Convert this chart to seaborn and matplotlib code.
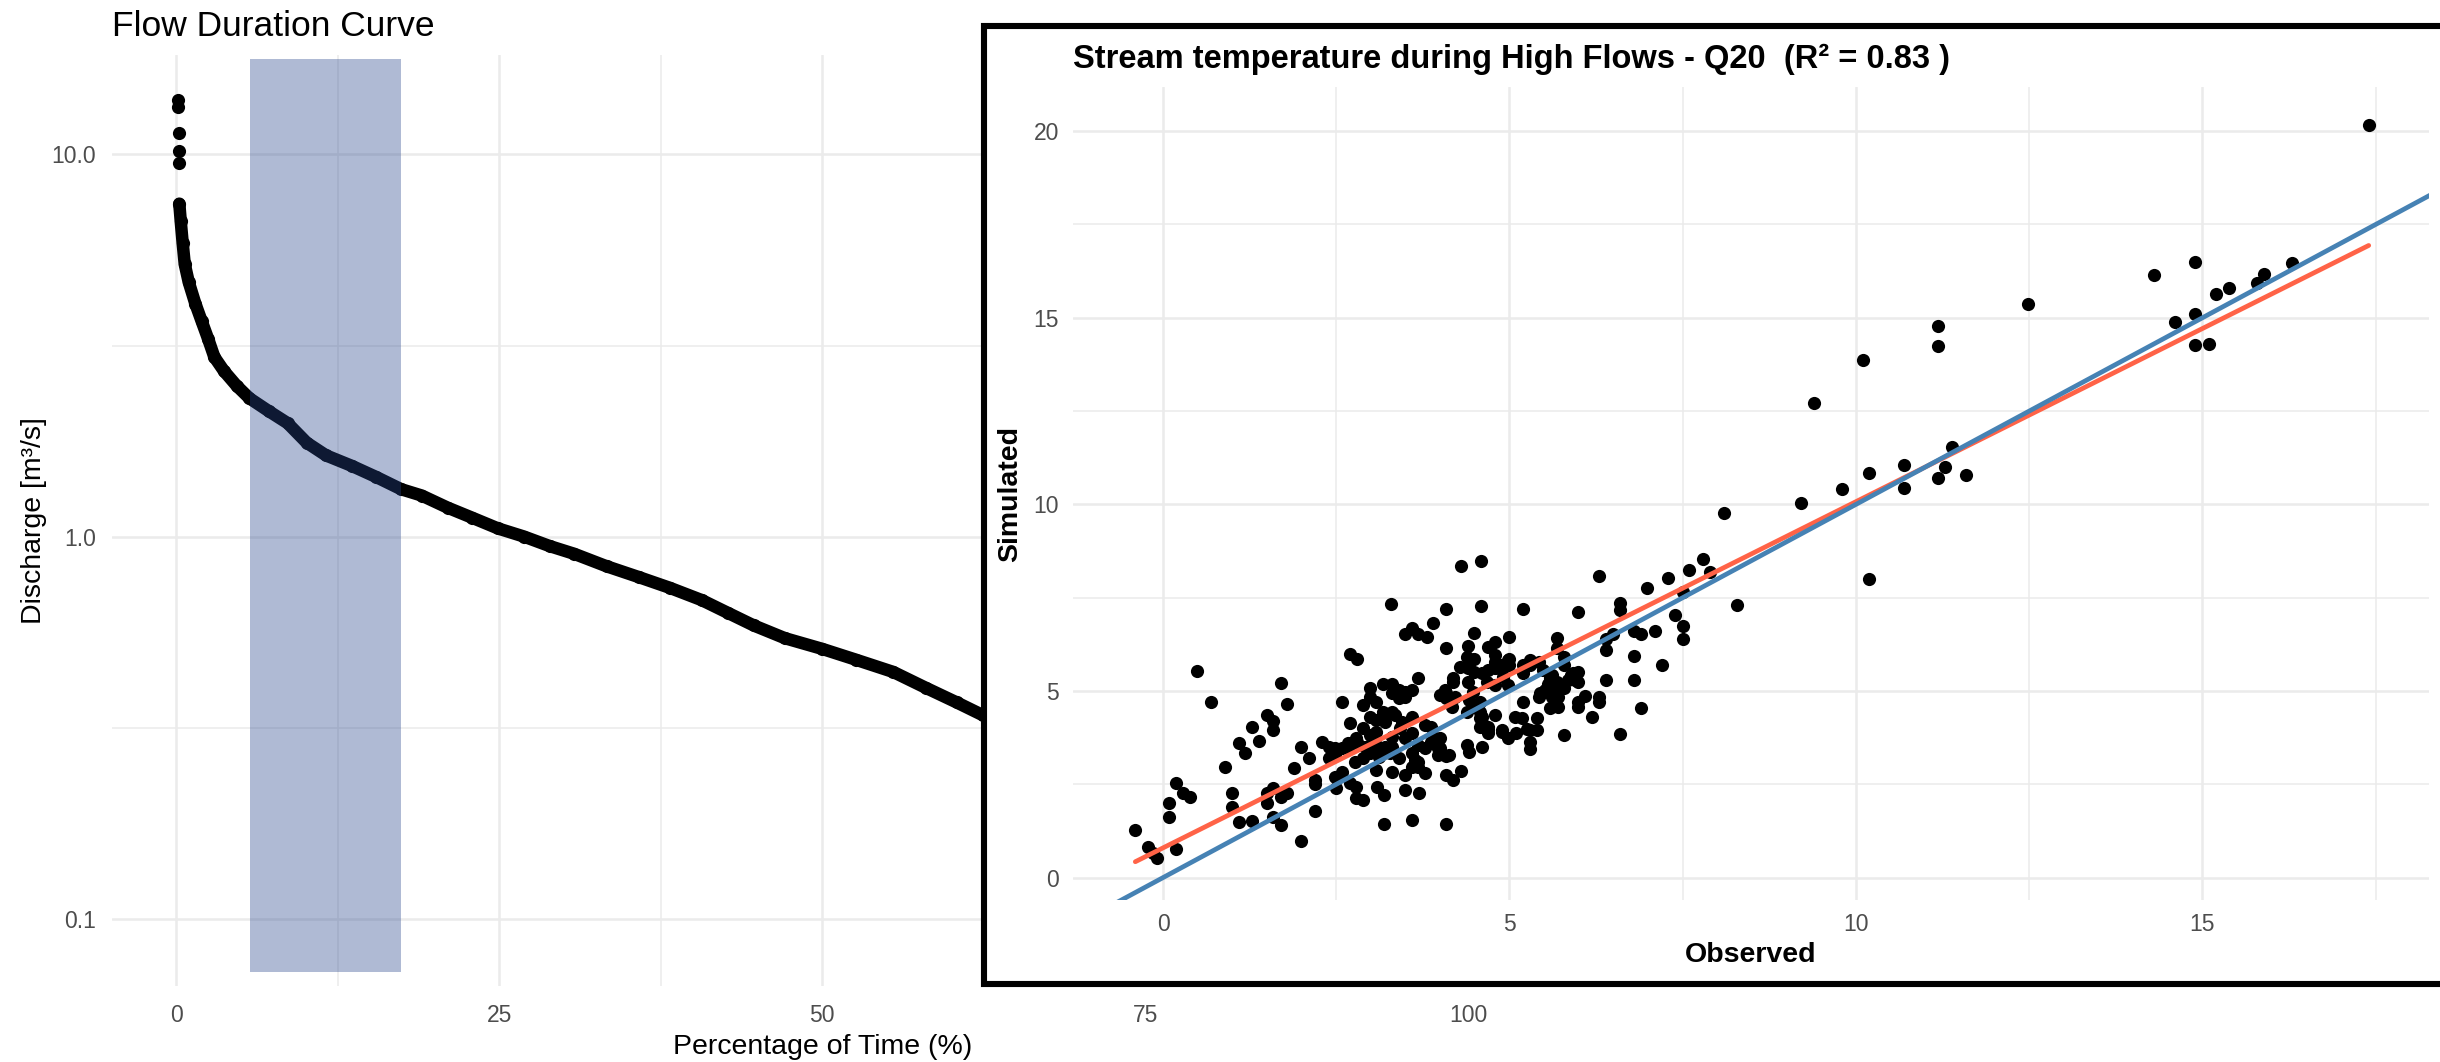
import matplotlib
matplotlib.use("Agg")
import matplotlib.pyplot as plt
from matplotlib.patches import Rectangle
from matplotlib.ticker import FixedLocator, FixedFormatter, NullFormatter
import seaborn as sns

# ---------------------------------------------------------------------------
# Flow duration curve (exceedance % vs discharge, m3/s)
# ---------------------------------------------------------------------------
fdc_peak_pct = [0.17, 0.17, 0.20, 0.22, 0.25]
fdc_peak_q = [13.9, 13.3, 11.4, 10.2, 9.5]

fdc_pct = [0.24, 0.35, 0.50, 0.66, 0.97, 1.48, 1.97, 2.47, 2.95, 3.70,
           4.68, 5.67, 7.15, 8.62, 10.1, 11.6, 13.6, 15.5, 17.4, 19.0,
           21.0, 22.9, 24.9, 26.9, 28.9, 30.8, 33.3, 35.8, 38.2, 40.7,
           42.7, 44.7, 47.1, 50.0, 52.6, 55.5, 58.0, 60.4, 62.4, 64.0]
fdc_q = [7.43, 6.69, 5.86, 5.16, 4.63, 4.07, 3.66, 3.29, 2.95, 2.71,
         2.48, 2.30, 2.13, 1.98, 1.76, 1.63, 1.53, 1.43, 1.33, 1.28,
         1.19, 1.12, 1.05, 1.00, 0.944, 0.901, 0.836, 0.783, 0.734, 0.681,
         0.631, 0.585, 0.542, 0.508, 0.476, 0.442, 0.402, 0.368, 0.341, 0.326]

# High-flow window (Q20 period) highlighted on the curve
hf_window_pct = [5.7, 17.4]
hf_window_q = [0.0727, 17.8]

pct_ticks = [0, 25, 50, 75, 100]
pct_minor = [12.5, 37.5, 62.5, 87.5]
q_ticks = [0.1, 1.0, 10.0]
q_tick_labels = ["0.1", "1.0", "10.0"]
q_minor = [0.316, 3.16]

# ---------------------------------------------------------------------------
# Stream temperature during high flows: observed vs simulated (deg C)
# ---------------------------------------------------------------------------
observed = [
    -0.40, -0.21, -0.14, -0.09, 0.19, 0.09, 0.09, 0.19, 0.29, 0.39,
    0.49, 0.69, 0.90, 0.99, 0.99, 1.09, 1.29, 1.09, 1.19, 1.29,
    1.39, 1.50, 1.59, 1.59, 1.70, 1.79, 1.50, 1.50, 1.59, 1.70,
    1.79, 1.59, 1.70, 1.99, 1.99, 2.10, 1.89, 2.19, 2.19, 2.19,
    2.29, 2.39, 2.48, 2.48, 2.58, 2.67, 2.48, 2.59, 2.50, 2.70,
    2.79, 2.79, 2.89, 2.70, 2.59, 2.89, 2.79, 2.89, 2.99, 3.08,
    3.08, 3.19, 3.30, 3.19, 3.19, 3.09, 3.30, 3.40, 3.49, 3.59,
    3.69, 3.59, 3.68, 3.78, 3.49, 3.59, 2.99, 3.08, 2.99, 2.89,
    2.99, 2.99, 3.08, 3.18, 3.30, 3.40, 3.49, 3.59, 3.30, 3.40,
    3.49, 3.18, 3.30, 3.08, 3.59, 3.78, 3.87, 3.68, 3.78, 3.87,
    3.97, 3.97, 3.68, 3.49, 2.70, 2.39, 3.29, 3.49, 3.59, 3.68,
    3.81, 3.90, 2.70, 2.80, 3.68, 3.64, 3.92, 4.12, 3.42, 3.30,
    3.20, 3.28, 3.11, 2.77, 2.67, 2.80, 2.91, 3.01, 3.20, 3.35,
    3.45, 4.19, 4.09, 4.29, 4.38, 4.60, 4.69, 4.79, 4.89, 4.98,
    4.07, 4.21, 4.17, 4.41, 4.50, 4.60, 4.69, 4.60, 4.38, 4.41,
    4.60, 4.79, 4.89, 4.98, 5.10, 5.18, 5.08, 5.25, 5.39, 5.42,
    5.51, 5.61, 5.70, 5.85, 5.95, 5.20, 5.30, 5.42, 5.49, 5.61,
    5.56, 4.30, 4.59, 6.29, 7.79, 7.59, 7.29, 7.89, 6.99, 7.50,
    8.29, 6.59, 6.59, 5.99, 5.19, 4.59, 4.09, 7.39, 7.50, 7.50,
    7.10, 6.90, 6.80, 6.49, 6.39, 6.39, 6.80, 7.20, 6.39, 6.80,
    6.90, 6.59, 6.19, 6.29, 6.29, 6.09, 5.99, 5.99, 5.79, 5.69,
    5.69, 5.79, 5.79, 5.99, 5.99, 5.89, 5.59, 5.68, 5.78, 5.61,
    5.44, 5.70, 5.58, 5.70, 5.39, 5.30, 5.30, 5.30, 5.30, 5.20,
    5.20, 4.89, 4.99, 4.99, 4.99, 4.79, 4.69, 4.79, 4.79, 4.89,
    4.90, 4.98, 4.79, 4.67, 4.49, 4.40, 4.49, 4.40, 4.49, 4.19,
    4.40, 4.48, 4.09, 4.00, 4.57, 4.38, 4.57, 4.57, 4.69, 4.69,
    4.57, 4.09, 4.19, 4.30, 4.09, 4.00, 4.00, 4.09, 4.09, 5.92,
    3.59, 3.97, 8.09, 9.20, 9.80, 9.39, 10.10, 10.19, 10.70, 10.70,
    11.19, 11.19, 11.19, 11.29, 11.39, 11.59, 12.49, 14.30, 14.90, 14.60,
    14.90, 14.90, 15.10, 15.19, 15.39, 15.79, 15.89, 16.29, 17.40, 10.19,
]
simulated = [
    1.27, 0.83, 0.65, 0.52, 0.78, 1.63, 1.99, 2.53, 2.26, 2.15,
    5.54, 4.70, 2.97, 2.26, 1.90, 1.50, 1.52, 3.62, 3.33, 4.04,
    3.66, 4.36, 4.19, 3.95, 5.22, 4.66, 2.26, 1.99, 2.39, 2.17,
    2.28, 1.63, 1.41, 0.99, 3.51, 3.20, 2.94, 2.61, 2.50, 1.79,
    3.64, 3.51, 3.46, 3.29, 3.46, 3.51, 2.70, 2.84, 2.39, 2.53,
    2.44, 2.12, 2.08, 4.13, 4.71, 4.02, 3.73, 3.20, 3.33, 3.55,
    2.88, 3.37, 3.51, 2.21, 1.43, 2.44, 2.84, 3.20, 2.35, 1.54,
    2.26, 3.33, 3.11, 2.79, 3.73, 3.87, 3.82, 3.91, 4.31, 4.63,
    5.07, 4.85, 4.71, 5.20, 5.20, 5.02, 4.98, 5.02, 4.94, 4.80,
    4.85, 4.44, 4.44, 4.22, 4.31, 4.09, 4.04, 3.55, 3.46, 3.64,
    3.46, 3.29, 2.97, 2.75, 3.55, 3.20, 7.32, 6.54, 6.68, 6.54,
    6.45, 6.81, 5.98, 5.86, 5.34, 3.15, 3.73, 3.28, 4.00, 3.77,
    3.51, 3.33, 3.24, 3.10, 3.60, 3.64, 3.51, 3.60, 4.18, 4.36,
    4.18, 5.34, 4.94, 5.65, 5.92, 5.47, 5.56, 5.78, 5.69, 5.83,
    5.03, 4.85, 4.58, 4.76, 4.58, 4.31, 3.95, 4.13, 3.55, 3.37,
    3.51, 4.36, 3.95, 3.73, 3.87, 4.27, 4.31, 3.99, 3.95, 4.85,
    5.03, 4.85, 5.11, 5.29, 5.29, 5.47, 5.70, 5.78, 5.56, 5.43,
    5.20, 8.35, 8.47, 8.07, 8.53, 8.23, 8.03, 8.20, 7.77, 7.66,
    7.30, 7.35, 7.17, 7.12, 7.21, 7.27, 7.19, 7.03, 6.74, 6.39,
    6.62, 6.52, 6.62, 6.54, 6.38, 6.09, 5.95, 5.71, 5.30, 5.29,
    4.54, 3.84, 4.30, 4.85, 4.71, 4.86, 4.71, 4.58, 3.81, 6.43,
    6.14, 5.92, 5.70, 5.52, 5.25, 5.43, 5.34, 5.25, 5.07, 4.98,
    4.94, 4.85, 4.54, 4.58, 4.27, 3.95, 3.64, 3.44, 5.83, 5.70,
    4.71, 3.91, 6.45, 5.87, 5.70, 6.32, 6.19, 5.96, 5.61, 5.56,
    5.38, 5.16, 5.16, 5.25, 6.55, 6.21, 5.87, 5.61, 5.52, 5.25,
    5.25, 4.98, 4.80, 4.89, 4.71, 4.44, 4.44, 4.27, 4.04, 3.87,
    4.04, 2.75, 2.61, 2.86, 1.43, 3.73, 3.46, 3.27, 6.14, 5.47,
    2.97, 3.51, 9.78, 10.04, 10.40, 12.72, 13.88, 10.85, 11.05, 10.43,
    14.78, 14.24, 10.71, 11.01, 11.54, 10.78, 15.37, 16.14, 16.50, 14.88,
    15.11, 14.26, 14.30, 15.64, 15.79, 15.94, 16.16, 16.47, 20.17, 8.00,
]
one_to_one = [-2.0, 22.0]

temp_x_ticks = [0, 5, 10, 15]
temp_x_minor = [2.5, 7.5, 12.5, 17.5]
temp_y_ticks = [0, 5, 10, 15, 20]
temp_y_minor = [2.5, 7.5, 12.5, 17.5]

# ---------------------------------------------------------------------------
sns.set_theme(style="white")
plt.rcParams["font.family"] = ["Liberation Sans", "DejaVu Sans"]

W, H = 2440, 1062
DPI = 100
fig = plt.figure(figsize=(W / DPI, H / DPI), dpi=DPI)
fig.patch.set_facecolor("white")

GRID = "#EBEBEB"
TICK_TXT = "#4D4D4D"
POINT_SIZE = 90


def px_box(x0, y0, x1, y1):
    """Axes rectangle from pixel corners (top-left origin)."""
    return [x0 / W, 1 - y1 / H, (x1 - x0) / W, (y1 - y0) / H]


def minimal_style(a, label_pad_x, label_pad_y):
    for s in a.spines.values():
        s.set_visible(False)
    a.set_axisbelow(True)
    a.grid(which="major", color=GRID, lw=1.8)
    a.grid(which="minor", color=GRID, lw=1.1)
    a.tick_params(which="both", length=0, labelsize=16.5, labelcolor=TICK_TXT)
    a.tick_params(axis="x", pad=label_pad_x)
    a.tick_params(axis="y", pad=label_pad_y)


# ---- Flow duration curve ---------------------------------------------------
ax = fig.add_axes(px_box(111.6, 55, 1533, 985.6), zorder=0)
ax.set_yscale("log")
ax.set_xlim(-5, 105)
ax.set_ylim(0.0668, 18.2)

sns.lineplot(x=fdc_pct, y=fdc_q, ax=ax, color="black", lw=9.0,
             solid_capstyle="round", solid_joinstyle="round", zorder=2)
sns.scatterplot(x=fdc_pct + fdc_peak_pct, y=fdc_q + fdc_peak_q, ax=ax,
                color="black", s=POINT_SIZE, linewidth=0, zorder=2)
ax.fill_between(hf_window_pct, hf_window_q[0], hf_window_q[1],
                color=(40 / 255, 70 / 255, 140 / 255), alpha=0.37,
                linewidth=0, zorder=3)

ax.xaxis.set_major_locator(FixedLocator(pct_ticks))
ax.xaxis.set_minor_locator(FixedLocator(pct_minor))
ax.xaxis.set_major_formatter(FixedFormatter([str(t) for t in pct_ticks]))
ax.yaxis.set_major_locator(FixedLocator(q_ticks))
ax.yaxis.set_major_formatter(FixedFormatter(q_tick_labels))
ax.yaxis.set_minor_locator(FixedLocator(q_minor))
ax.yaxis.set_minor_formatter(NullFormatter())
minimal_style(ax, 13, 11.2)

ax.set_title("Flow Duration Curve", loc="left", fontsize=25.5, color="black",
             pad=13.7)
ax.set_xlabel("Percentage of Time (%)", fontsize=20.5, color="black")
ax.xaxis.label.set_va("baseline")
ax.xaxis.set_label_coords(0.5, 1 - (1053.7 - 55) / (985.6 - 55))
ax.set_ylabel("Discharge [m\u00b3/s]", fontsize=20.5, color="black")
ax.yaxis.label.set_va("baseline")
ax.yaxis.set_label_coords((41 - 111.6) / (1533 - 111.6), 0.5)

# ---- Inset frame -------------------------------------------------------------
frame = Rectangle((984 / W, 1 - 984 / H), 1.05 - 984 / W, (984 - 26) / H,
                  transform=fig.transFigure, facecolor="white",
                  edgecolor="black", lw=4.4, zorder=1)
fig.add_artist(frame)

# ---- Observed vs simulated stream temperature --------------------------------
ax2 = fig.add_axes(px_box(1073, 87.5, 2429, 899.6), zorder=2)
ax2.set_facecolor("white")

sns.scatterplot(x=observed, y=simulated, ax=ax2, color="black", s=POINT_SIZE,
                linewidth=0, zorder=2)
sns.regplot(x=observed, y=simulated, ax=ax2, scatter=False, ci=None,
            color="tomato", line_kws=dict(lw=3.4, zorder=3))
sns.lineplot(x=one_to_one, y=one_to_one, ax=ax2, color="steelblue", lw=3.4,
             zorder=4)

ax2.xaxis.set_major_locator(FixedLocator(temp_x_ticks))
ax2.xaxis.set_minor_locator(FixedLocator(temp_x_minor))
ax2.xaxis.set_major_formatter(FixedFormatter([str(t) for t in temp_x_ticks]))
ax2.yaxis.set_major_locator(FixedLocator(temp_y_ticks))
ax2.yaxis.set_minor_locator(FixedLocator(temp_y_minor))
ax2.yaxis.set_major_formatter(FixedFormatter([str(t) for t in temp_y_ticks]))
minimal_style(ax2, 10, 10)
ax2.set_xlim(-1.299, 18.27)
ax2.set_ylim(-0.589, 21.17)

ax2.set_title("Stream temperature during High Flows - Q20  (R\u00b2 = 0.83 )",
              loc="left", fontsize=23.5, fontweight="bold", color="black",
              pad=14.2)
ax2.set_xlabel("Observed", fontsize=20.5, fontweight="bold", color="black")
ax2.xaxis.label.set_va("baseline")
ax2.xaxis.set_label_coords(0.5, 1 - (962 - 87.5) / (899.6 - 87.5))
ax2.set_ylabel("Simulated", fontsize=20.5, fontweight="bold", color="black")
ax2.yaxis.label.set_va("center")
ax2.yaxis.set_label_coords((1010 - 1073) / (2429 - 1073), 0.5)

fig.savefig("out.png", dpi=DPI, facecolor="white")
